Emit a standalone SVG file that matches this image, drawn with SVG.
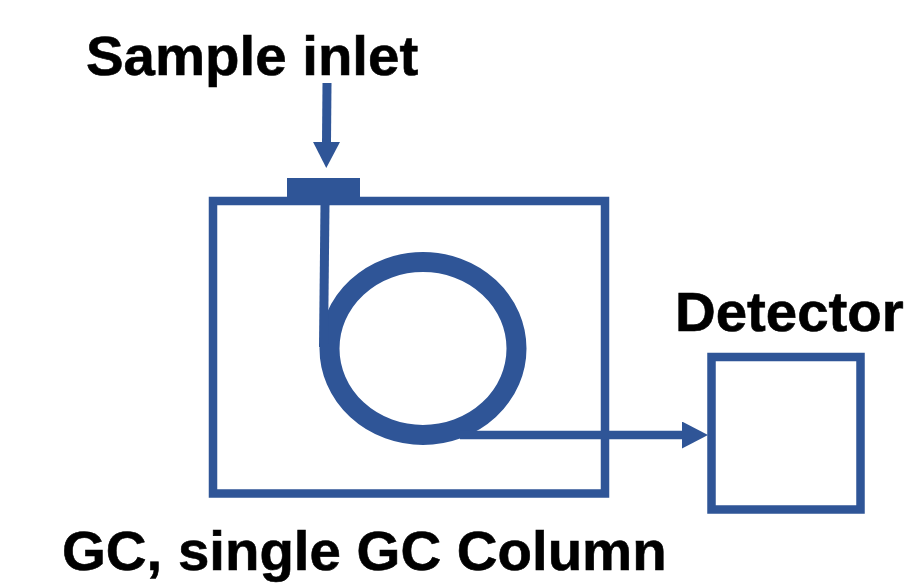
<svg xmlns="http://www.w3.org/2000/svg" width="911" height="583" viewBox="0 0 911 583">
<style>
.t{font-family:"Liberation Sans",Arial,sans-serif;font-weight:700;fill:#000;font-size:56.4px;stroke:#000;stroke-width:.6}
.b{fill:none;stroke:#2F5597;stroke-width:8.5}
.c{fill:none;stroke:#2F5597}
</style>
<defs>
<marker id="a" markerUnits="userSpaceOnUse" markerWidth="28" markerHeight="28" refX="0" refY="13.5" orient="auto"><path d="M0 0L26 13.5L0 27Z" fill="#2F5597"/></marker>
</defs>
<rect width="911" height="583" fill="#fff"/>
<g id="gc-oven"><rect class="b" x="213" y="201" width="392" height="292.5"/></g>
<g id="inlet"><rect x="287" y="178" width="73" height="22" fill="#2F5597"/></g>
<g id="detector"><rect class="b" x="711.5" y="357" width="149" height="152.5"/></g>
<g id="column"><ellipse class="c" cx="423" cy="348.500" rx="93.500" ry="86.500" stroke-width="20"/></g>
<g id="connectors">
<path class="c" stroke-width="9" d="M327 83L326.500 142" marker-end="url(#a)"/>
<path class="c" stroke-width="9" d="M325 204L323.500 347"/>
<path class="c" stroke-width="8.500" d="M460 435H682" marker-end="url(#a)"/>
</g>
<text class="t" x="86" y="75">Sample inlet</text>
<text class="t" x="675" y="331">Detector</text>
<text class="t" x="62" y="570">GC, single GC Column</text>
</svg>
